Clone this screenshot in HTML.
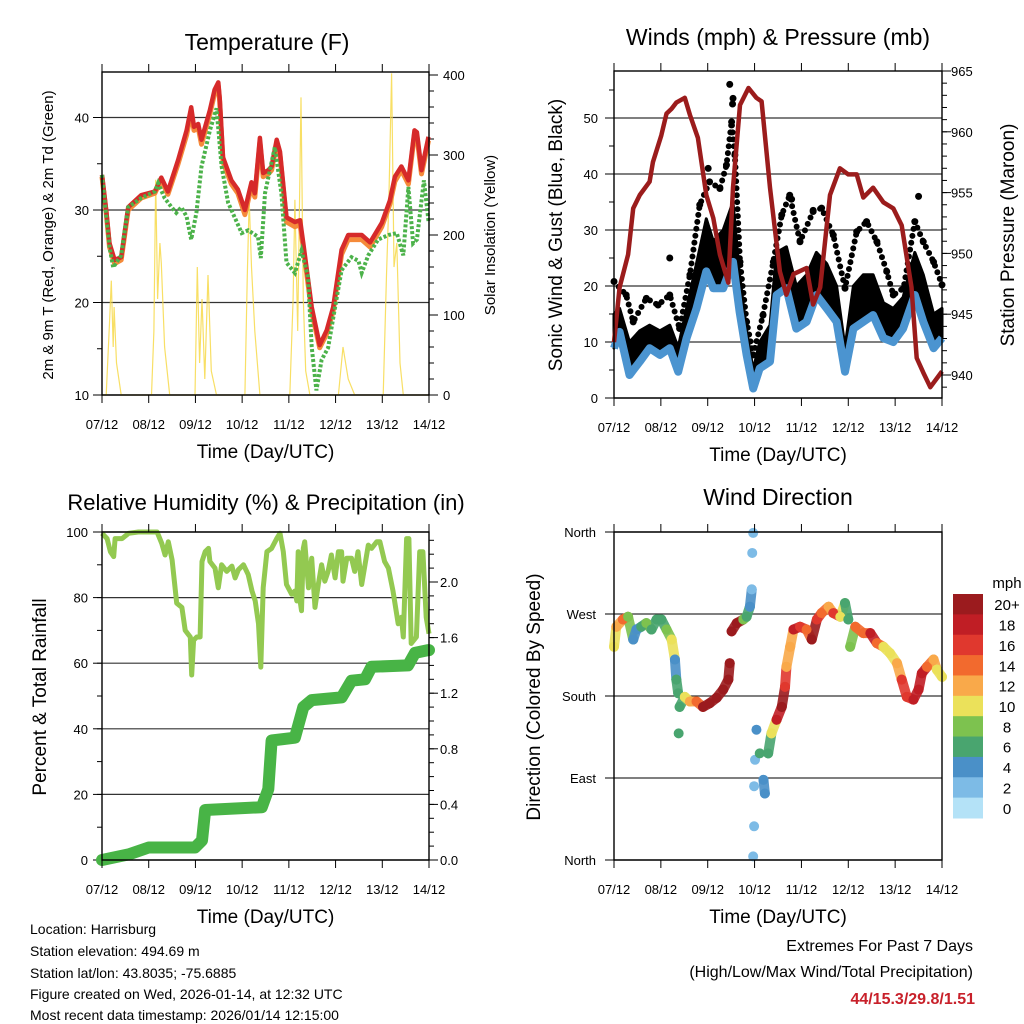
<!DOCTYPE html>
<html><head><meta charset="utf-8"><style>
html,body{margin:0;padding:0;background:#fff;}
svg{display:block;font-family:"Liberation Sans",Arial,sans-serif;}
</style></head><body>
<svg id="chart" width="1024" height="1024" viewBox="0 0 1024 1024" xmlns="http://www.w3.org/2000/svg"></svg>
<script>
// ---------- DATA ----------
const dayLabels = ["07/12","08/12","09/12","10/12","11/12","12/12","13/12","14/12"];
// Temperature (F)
const tempDays = [0,.09,.16,.27,.41,.56,.84,1.13,1.27,1.41,1.63,1.81,1.91,1.97,2.06,2.13,2.31,2.41,2.49,2.52,2.59,2.77,2.91,3.06,3.2,3.27,3.38,3.45,3.56,3.63,3.74,3.81,3.95,4.13,4.24,4.31,4.49,4.66,4.81,4.95,5.13,5.27,5.56,5.74,5.99,6.16,6.27,6.41,6.56,6.69,6.74,6.84,6.99];
const temp2m = [33.8,30,26.4,24.6,24.9,30.3,31.6,32,33.5,32,35.4,38.6,41.1,39,39.3,37.6,40.8,43,43.8,42.1,35.7,33.2,32.2,30,33,31.8,37.8,34,34.3,34.7,37.6,36.3,29.2,28.7,28.9,26.4,19.5,15.4,17,19.5,25.7,27.3,27.3,26.5,28.6,31,33.6,34.7,33.2,38.6,38.4,34.3,37.9];
const temp9m = [33.6,29.7,26,24.2,24.6,30,31.3,31.8,33.3,31.7,35,38.1,40.6,38.6,38.9,37.1,40.4,42.6,43.4,41.7,35.2,32.8,31.8,29.5,32.6,31.4,37.3,33.6,33.9,34.3,37.2,35.9,28.7,28.2,28.4,25.9,19,15.1,16.6,19.1,25.2,26.8,26.8,26,28.2,30.6,33.1,34.3,32.8,38.2,38,33.9,37.5];
const tdDays = [0,.16,.24,.41,.56,.84,1.13,1.2,1.34,1.49,1.59,1.7,1.81,1.91,2.02,2.13,2.31,2.45,2.56,2.7,2.99,3.13,3.34,3.4,3.49,3.7,3.84,3.95,4.13,4.27,4.41,4.49,4.59,4.7,4.84,4.99,5.13,5.34,5.49,5.56,5.7,5.91,6.13,6.31,6.45,6.56,6.66,6.74,6.89,6.99];
const dewpoint = [33.8,26,23.8,25.1,30.3,31.3,32,32.9,31.3,30.3,29.7,30.3,29.3,26.8,29.7,34.7,38.6,41,34.7,30.8,27.5,27.8,27.1,24.8,31.8,36.8,31.8,24.3,23.2,25.6,22.8,15.2,10.5,13.8,15.1,19.5,23.5,24.9,24.5,23.2,25.1,26.8,27.3,27.5,25.1,32.5,26.4,26.8,33.2,28.8];
const solarDays = [0,.09,.16,.2,.24,.26,.31,.41,1.06,1.11,1.15,1.19,1.24,1.27,1.34,1.45,1.99,2.04,2.09,2.14,2.2,2.27,2.34,2.45,3.06,3.11,3.15,3.2,3.27,3.38,4.02,4.09,4.13,4.19,4.26,4.31,4.36,4.45,5.06,5.16,5.27,5.41,6.02,6.09,6.14,6.2,6.25,6.31,6.38,6.45,7];
const solar = [0,0,90,143,60,110,40,0,0,80,269,120,190,165,60,0,0,160,40,120,20,150,30,0,0,150,244,160,80,0,0,120,244,80,372,120,30,0,0,60,20,0,0,150,240,402,160,190,40,0,0];
// Winds
const windDays = [0,.12,.33,.55,.76,.98,1.19,1.37,1.55,1.76,1.97,2.12,2.33,2.54,2.68,2.83,2.97,3.11,3.33,3.47,3.68,3.89,4.11,4.32,4.54,4.75,4.93,5.11,5.32,5.53,5.75,5.96,6.17,6.42,6.6,6.82,7];
const windSpeed = [8.9,11.8,4.1,6.5,8.9,7.7,8.9,4.7,10.7,16,22.6,19.6,19.6,24.3,15.4,7.7,1.7,5.3,6.5,18.4,19.6,12.4,13.6,18.4,16,13.6,4.7,12.4,13.6,14.8,10.7,10,12.4,18.4,13.6,8.9,10.7];
const gustTypical = [15,16,10,12,13,12,13,9,16,24,32,28,30,35,22,12,5,10,13,26,27,20,22,26,24,20,9,20,22,22,17,16,18,26,22,15,16];
const gustDays = [0,.26,.41,.69,.94,1.19,1.4,1.62,1.83,2.04,2.26,2.4,2.51,2.58,2.69,2.83,2.97,3.18,3.4,3.58,3.75,3.97,4.25,4.43,4.68,4.93,5.18,5.39,5.61,5.82,5.96,6.18,6.42,6.6,6.82,7];
const gustMax = [20.8,18.4,13.6,17.8,16.6,18.4,12.4,22,34.5,38.6,37.4,41.6,49.3,43.4,24.3,13.6,7.7,14.8,24.3,32.7,36.2,27.9,33.3,33.9,29.1,19.6,29.7,31.5,27.9,22.6,18.4,19.6,31.5,27.9,24.3,20.2];
const gustOutDays = [2.47,2.54,2.53,3.79,6.5,1.19,2.01,4.25];
const gustOut = [56,53.5,52.5,35.5,36,25,41,33.5];
const presDays = [0,.12,.3,.41,.55,.76,.83,1.01,1.12,1.23,1.33,1.51,1.62,1.79,1.97,2.12,2.26,2.44,2.54,2.69,2.87,3.04,3.15,3.33,3.54,3.68,3.83,4.11,4.25,4.4,4.61,4.82,5,5.18,5.32,5.53,5.75,5.96,6.14,6.35,6.46,6.6,6.75,7];
const pressure = [942.7,947.2,949.9,953.7,954.8,955.9,957.5,959.7,961.5,961.9,962.4,962.8,961.4,959.5,954.8,952.9,949.9,947.6,955.4,962.2,963.6,962.8,962.5,955.4,948.5,946.6,948.3,948.8,945.8,947.2,954.8,957,956.5,956.5,954.6,955.4,954.2,953.7,952.3,947.2,941.4,940.2,939,940.3];
// RH & precip
const rhDays = [0,.11,.18,.25,.28,.43,.57,.78,1.18,1.28,1.35,1.42,1.5,1.6,1.71,1.78,1.89,1.92,1.96,2.03,2.1,2.14,2.21,2.28,2.31,2.42,2.49,2.56,2.67,2.78,2.85,2.92,3.03,3.13,3.21,3.28,3.35,3.4,3.45,3.53,3.63,3.74,3.81,3.88,3.95,4.06,4.13,4.17,4.2,4.24,4.27,4.31,4.34,4.42,4.49,4.56,4.63,4.7,4.77,4.84,4.91,4.99,5.06,5.13,5.16,5.24,5.34,5.41,5.48,5.56,5.63,5.7,5.77,5.88,5.95,6.05,6.13,6.23,6.34,6.41,6.45,6.52,6.57,6.62,6.73,6.8,6.87,6.94,7];
const rh = [99.6,98,94,92.5,98,98,99.6,100,100,96.5,93,97,91.5,78.3,77,70,68,56.4,67,68,68,91,94,95,91,89,83,90,88,89.6,86,88.5,90,87,82,79,72,58.8,83,94,95,98,99.6,94,84,81,82,79,94,79,76,95,97,83,92,77,84,90,85,88,93,86,94,94,85,92,92,88,94,84,90,96,95,97,97,91,89,82,72,74,68,98,98,66,68,94,94,74,69];
const precipDays = [0,.57,1,1.99,2.14,2.21,3.42,3.56,3.63,4.13,4.31,4.49,5.13,5.34,5.63,5.77,6.55,6.7,6.98,7];
const precip = [0,0.04,0.09,0.09,0.14,0.36,0.38,0.51,0.86,0.88,1.1,1.15,1.17,1.29,1.3,1.39,1.4,1.49,1.51,1.51];
// Wind direction
const dirDays = [0,.05,.19,.3,.41,.48,.58,.69,.8,.91,1.01,1.12,1.23,1.3,1.33,1.37,1.38,1.4,1.51,1.62,1.76,1.9,2.04,2.19,2.33,2.44,2.47,2.51,2.62,2.76,2.83,2.9,2.94,2.95,2.97,2.97,2.99,2.99,3.01,3.04,3.11,3.19,3.22,3.29,3.36,3.47,3.58,3.65,3.68,3.76,3.83,3.97,4.11,4.22,4.33,4.43,4.58,4.68,4.83,4.93,5,5.04,5.15,5.32,5.47,5.61,5.75,5.89,6.04,6.14,6.25,6.39,6.5,6.57,6.68,6.82,6.89,7];
const dirDeg = [234,256,264,267,242,253,256,260,253,264,264,253,242,220,198,183,139,168,179,174,174,168,172,178,187,198,216,251,260,264,267,278,297,337,359,4,37,81,110,143,117,88,73,117,139,154,168,190,212,234,253,256,253,242,264,271,278,271,267,282,264,234,256,249,249,238,234,227,216,198,179,176,187,205,212,220,209,201];
const dirSpeed = [10,12,14,8,4,5,6,8,6,6,6,8,10,5,6,6,6,6,10,12,15,20,20,20,20,20,20,20,20,8,6,4,2,2,2,2,2,2,2,4,6,4,4,6,10,18,20,16,12,12,18,16,14,20,16,14,12,16,10,6,6,8,14,14,18,14,10,10,12,16,16,18,18,18,14,12,10,10];
const speedBins = ["0","2","4","6","8","10","12","14","16","18","20+"];
const binColors = ["#b4e2f7","#7dbbe6","#4a90c8","#49a56f","#7dc24f","#ebe15a","#f9a94a","#f26a2e","#e0382e","#c01e25","#9b1b1e"];

// ---------- HELPERS ----------
const NS = "http://www.w3.org/2000/svg";
const svg = document.getElementById("chart");
function mk(tag, attrs, parent) {
  const e = document.createElementNS(NS, tag);
  for (const k in attrs) e.setAttribute(k, attrs[k]);
  (parent || svg).appendChild(e);
  return e;
}
function txt(str, x, y, size, anchor, parent, extra) {
  const t = mk("text", Object.assign({x: x, y: y, "font-size": size, "text-anchor": anchor || "middle", fill: "#000"}, extra || {}), parent);
  t.textContent = str;
  return t;
}
function linePts(xs, ys, fx, fy) {
  return xs.map((d, i) => fx(d).toFixed(1) + "," + fy(ys[i]).toFixed(1)).join(" ");
}

function panel(name, x0, x1, y0, y1) {
  const g = mk("g", {});
  
  
  const fx = d => x0 + d * (x1 - x0) / 7;
  return {g, x0, x1, y0, y1, fx};
}
function frame(p) {
  const r = mk("rect", {x: p.x0, y: p.y0, width: p.x1 - p.x0, height: p.y1 - p.y0, fill: "none", stroke: "#000", "stroke-width": 1.4}, p.g);
  
  
}
function xAxis(p) {
  const ga = mk("g", {}, p.g);
  
  
  dayLabels.forEach((lab, i) => {
    const x = p.fx(i);
    mk("line", {x1: x, x2: x, y1: p.y1, y2: p.y1 + 8, stroke: "#000", "stroke-width": 1}, ga);
    mk("line", {x1: x, x2: x, y1: p.y0, y2: p.y0 - 8, stroke: "#000", "stroke-width": 1}, ga);
    const t = txt(lab, x, p.y1 + 34, 13, "middle", ga);
    
    
  });
  const tt = txt("Time (Day/UTC)", (p.x0 + p.x1) / 2, p.y1 + 63, 19, "middle", p.g);
  
  
}
function yTicks(p, side, fy, majors, minorStep, lo, hi, labelFn, grid, lx) {
  const ga = mk("g", {}, p.g);
  
  
  const xe = side === "left" ? p.x0 : p.x1;
  const dir = side === "left" ? -1 : 1;
  if (minorStep) {
    for (let v = lo; v <= hi + 1e-9; v += minorStep) {
      const y = fy(v);
      if (y < p.y0 - 0.5 || y > p.y1 + 0.5) continue;
      mk("line", {x1: xe, x2: xe + dir * 5, y1: y, y2: y, stroke: "#000", "stroke-width": 1}, ga);
    }
  }
  majors.forEach(v => {
    const y = fy(v);
    mk("line", {x1: xe, x2: xe + dir * 9, y1: y, y2: y, stroke: "#000", "stroke-width": 1}, ga);
    if (grid) {
      const gl = mk("line", {x1: p.x0, x2: p.x1, y1: y, y2: y, stroke: "#333", "stroke-width": 1.2}, ga);
      
      
    }
    const t = txt(labelFn(v), lx, y + 5, 13, side === "left" ? "end" : "start", ga);
    
    
  });
}
function vtitle(str, x, y, size, parent, name) {
  const t = txt(str, x, y, size, "middle", parent, {transform: "rotate(-90 " + x + " " + y + ")"});
  
  
}

// ---------- PANEL 1: TEMPERATURE ----------
{
  const p = panel("temperature-panel", 102, 429, 72, 395);
  const fyT = t => 395 - (t - 10) * 9.25;
  const fyS = v => 395 - v * 0.8;
  yTicks(p, "left", fyT, [10,20,30,40], 5, 10, 45, v => String(v), true, 89);
  yTicks(p, "right", fyS, [0,100,200,300,400], 20, 0, 400, v => String(v), false, 443);
  const s = mk("polyline", {points: linePts(solarDays, solar, p.fx, fyS), fill: "none", stroke: "#f7d94a", "stroke-width": 1.2, opacity: 0.85}, p.g);
  
  
  const o = mk("polyline", {points: linePts(tempDays, temp9m, p.fx, fyT), fill: "none", stroke: "#f58a3a", "stroke-width": 5, "stroke-linejoin": "round"}, p.g);
  
  
  const r = mk("polyline", {points: linePts(tempDays, temp2m, p.fx, fyT), fill: "none", stroke: "#d62a2a", "stroke-width": 4.5, "stroke-linejoin": "round"}, p.g);
  
  
  const gd = mk("polyline", {points: linePts(tdDays, dewpoint, p.fx, fyT), fill: "none", stroke: "#4cb24a", "stroke-width": 4, "stroke-dasharray": "3 2"}, p.g);
  
  
  frame(p);
  xAxis(p);
  const t = txt("Temperature (F)", 267, 50, 23, "middle", p.g);
  
  
  vtitle("2m & 9m T (Red, Orange) & 2m Td (Green)", 53, 235, 15, p.g, "temperature-y-axis-title");
  vtitle("Solar Insolation (Yellow)", 495, 235, 15, p.g, "solar-y-axis-title");
}

// ---------- PANEL 2: WINDS & PRESSURE ----------
{
  const p = panel("winds-pressure-panel", 614, 942, 71, 398);
  const fyW = v => 398 - v * 5.6;
  const fyP = v => 375 - (v - 940) * 12.16;
  yTicks(p, "left", fyW, [0,10,20,30,40,50], 5, 0, 55, v => String(v), true, 598);
  yTicks(p, "right", fyP, [940,945,950,955,960,965], 1, 938, 966, v => String(v), false, 951);
  // dense gust cloud between sustained wind and typical gust
  const top = windDays.map((d, i) => p.fx(d).toFixed(1) + "," + fyW(gustTypical[i]).toFixed(1));
  const bot = windDays.map((d, i) => p.fx(d).toFixed(1) + "," + fyW(windSpeed[i]).toFixed(1)).reverse();
  const band = mk("polygon", {points: top.concat(bot).join(" "), fill: "#000", stroke: "#000", "stroke-width": 3, "stroke-linejoin": "round"}, p.g);
  
  
  // sparse gust dots up to the maxima
  const env = mk("polyline", {points: linePts(gustDays, gustMax, p.fx, fyW), fill: "none", stroke: "#000", "stroke-width": 6, "stroke-linecap": "round", "stroke-dasharray": "0 7"}, p.g);
  
  
  gustDays.forEach((d, i) => {
    const c = mk("circle", {cx: p.fx(d), cy: fyW(gustMax[i]), r: 3.5, fill: "#000"}, p.g);
    
    
  });
  gustOutDays.forEach((d, i) => {
    const c = mk("circle", {cx: p.fx(d), cy: fyW(gustOut[i]), r: 3.5, fill: "#000"}, p.g);
    
    
  });
  const w = mk("polyline", {points: linePts(windDays, windSpeed, p.fx, fyW), fill: "none", stroke: "#4b94d0", "stroke-width": 8, "stroke-linejoin": "round"}, p.g);
  
  
  const pr = mk("polyline", {points: linePts(presDays, pressure, p.fx, fyP), fill: "none", stroke: "#9b1c1c", "stroke-width": 4.5, "stroke-linejoin": "round"}, p.g);
  
  
  frame(p);
  xAxis(p);
  const t = txt("Winds (mph) & Pressure (mb)", 778, 45, 23, "middle", p.g);
  
  
  vtitle("Sonic Wind & Gust (Blue, Black)", 562, 235, 19, p.g, "wind-y-axis-title");
  vtitle("Station Pressure (Maroon)", 1014, 235, 19, p.g, "pressure-y-axis-title");
}

// ---------- PANEL 3: RH & PRECIP ----------
{
  const p = panel("humidity-precip-panel", 102, 429, 532, 860);
  const fyR = v => 860 - v * 3.28;
  const fyP = v => 860 - v * 139;
  yTicks(p, "left", fyR, [0,20,40,60,80,100], 10, 0, 100, v => String(v), true, 88);
  yTicks(p, "right", fyP, [0,0.4,0.8,1.2,1.6,2.0], 0.1, 0, 2.35, v => v.toFixed(1), false, 440);
  const pc = mk("polyline", {points: linePts(precipDays, precip, p.fx, fyP), fill: "none", stroke: "#48b446", "stroke-width": 12, "stroke-linejoin": "round", "stroke-linecap": "round"}, p.g);
  
  
  const r = mk("polyline", {points: linePts(rhDays, rh, p.fx, fyR), fill: "none", stroke: "#93c951", "stroke-width": 5, "stroke-linejoin": "round"}, p.g);
  
  
  frame(p);
  xAxis(p);
  const t = txt("Relative Humidity (%) & Precipitation (in)", 266, 510, 22, "middle", p.g);
  
  
  vtitle("Percent & Total Rainfall", 46, 697, 19, p.g, "humidity-y-axis-title");
}

// ---------- PANEL 4: WIND DIRECTION ----------
{
  const p = panel("wind-direction-panel", 614, 942, 532, 860);
  const fyD = v => 860 - v * 0.9111;
  const names = {0: "North", 90: "East", 180: "South", 270: "West", 360: "North"};
  yTicks(p, "left", fyD, [0,90,180,270,360], 0, 0, 360, v => names[v], true, 596);
  const colorOf = s => binColors[Math.min(10, Math.floor(s / 2))];
  for (let i = 0; i < dirDays.length - 1; i++) {
    if (Math.abs(dirDeg[i + 1] - dirDeg[i]) > 25 || dirSpeed[i] <= 2) continue;
    const l = mk("line", {x1: p.fx(dirDays[i]), y1: fyD(dirDeg[i]), x2: p.fx(dirDays[i + 1]), y2: fyD(dirDeg[i + 1]), stroke: colorOf(dirSpeed[i]), "stroke-width": 10, "stroke-linecap": "round", opacity: 0.9}, p.g);
    
    
  }
  dirDays.forEach((d, i) => {
    const c = mk("circle", {cx: p.fx(d), cy: fyD(dirDeg[i]), r: 5, fill: colorOf(dirSpeed[i])}, p.g);
    
    
  });
  frame(p);
  xAxis(p);
  const t = txt("Wind Direction", 778, 505, 23, "middle", p.g);
  
  
  vtitle("Direction (Colored By Speed)", 540, 697, 19, p.g, "direction-y-axis-title");
  // colorbar
  const cb = mk("g", {}, p.g);
  
  
  const mph = txt("mph", 1007, 588, 15, "middle", cb);
  
  
  const h = 224 / 11;
  for (let k = 0; k < 11; k++) {
    const idx = 10 - k;
    const y = 594 + k * h;
    const r = mk("rect", {x: 953, y: y, width: 30, height: h + 0.5, fill: binColors[idx]}, cb);
    
    
    const lt = txt(speedBins[idx], 1007, y + h / 2 + 6, 15, "middle", cb);
    
    
  }
}

// ---------- FOOTER ----------
{
  const info = ["Location: Harrisburg", "Station elevation: 494.69 m", "Station lat/lon: 43.8035; -75.6885", "Figure created on Wed, 2026-01-14, at 12:32 UTC", "Most recent data timestamp: 2026/01/14 12:15:00"];
  const ys = [935, 957, 979, 1000, 1021];
  const g = mk("g", {});
  
  
  info.forEach((s, i) => {
    const t = txt(s, 30, ys[i] - 1, 14, "start", g);
    
    
  });
  const e = mk("g", {});
  
  
  const a = txt("Extremes For Past 7 Days", 973, 951, 16, "end", e);
  
  
  const b = txt("(High/Low/Max Wind/Total Precipitation)", 973, 977, 16, "end", e);
  
  
  const c = txt("44/15.3/29.8/1.51", 975, 1004, 16, "end", e, {"font-weight": "bold", fill: "#c8202a"});
  
  
}
</script>
</body></html>
